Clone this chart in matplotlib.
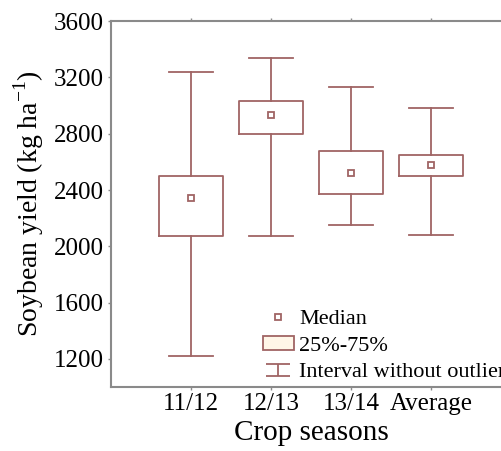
import matplotlib.pyplot as plt
from matplotlib.lines import Line2D
from matplotlib.patches import Patch
from matplotlib.path import Path

plt.rcParams['font.family'] = ['Liberation Serif', 'DejaVu Serif']
plt.rcParams['mathtext.fontset'] = 'custom'
plt.rcParams['mathtext.rm'] = 'Liberation Serif'

seasons = ["11/12", "12/13", "13/14", "Average"]
medians = [2340, 2930, 2520, 2580]
q1 = [2075, 2800, 2370, 2500]
q3 = [2500, 3030, 2680, 2650]
low = [1220, 2070, 2150, 2080]
high = [3240, 3340, 3130, 2980]

box_color = "#a06464"
spine_color = "#8a8a8a"

fig = plt.figure(figsize=(5.02, 4.51), dpi=100)
ax = fig.add_axes([0.221, 0.142, 0.797, 0.811])

stats = []
for i in range(len(seasons)):
    stats.append({"med": medians[i], "q1": q1[i], "q3": q3[i],
                  "whislo": low[i], "whishi": high[i], "label": seasons[i]})

ax.bxp(stats, positions=range(1, 5), widths=0.8, capwidths=0.56,
       showfliers=False,
       boxprops=dict(color=box_color, linewidth=1.3),
       whiskerprops=dict(color=box_color, linewidth=1.3),
       capprops=dict(color=box_color, linewidth=1.3),
       medianprops=dict(linewidth=0))
ax.plot(range(1, 5), medians, linestyle="none", marker="s", markersize=5,
        markerfacecolor="white", markeredgecolor=box_color, markeredgewidth=1.3)

ax.set_xlim(0, 5)
ax.set_ylim(1000, 3600)
ax.set_yticks([1200, 1600, 2000, 2400, 2800, 3200, 3600])
ax.set_xticks(range(1, 5))
ax.set_xticklabels(seasons)
ax.tick_params(axis="both", labelsize=18, length=2, width=1, color=spine_color, pad=3)
ax.tick_params(axis="x", top=True, pad=2)

for side in ["left", "bottom", "top"]:
    ax.spines[side].set_color(spine_color)
    ax.spines[side].set_linewidth(1.5)
ax.spines["right"].set_visible(False)

ax.set_xlabel("Crop seasons", fontsize=21, labelpad=4)
ax.set_ylabel("Soybean yield (kg ha$^{-1}$)", fontsize=20, labelpad=6)

# whisker symbol for legend
whisker_path = Path([(-1, 0.55), (1, 0.55), (0, 0.55), (0, -0.55), (-1, -0.55), (1, -0.55)],
                    [Path.MOVETO, Path.LINETO, Path.MOVETO, Path.LINETO,
                     Path.MOVETO, Path.LINETO])
handles = [
    Line2D([], [], linestyle="none", marker="s", markersize=5,
           markerfacecolor="white", markeredgecolor=box_color, markeredgewidth=1.3),
    Patch(facecolor="#fff6e8", edgecolor=box_color, linewidth=1.3),
    Line2D([], [], linestyle="none", marker=whisker_path, markersize=17,
           markeredgecolor=box_color, markeredgewidth=1.3),
]
labels = ["Median", "25%-75%", "Interval without outliers"]
ax.legend(handles, labels, loc="lower left", bbox_to_anchor=(0.34, -0.03),
          frameon=False, fontsize=16, handlelength=1.4, handleheight=0.6,
          handletextpad=0.25, labelspacing=0.3, borderpad=0.2)

fig.savefig("out.png", dpi=100)
